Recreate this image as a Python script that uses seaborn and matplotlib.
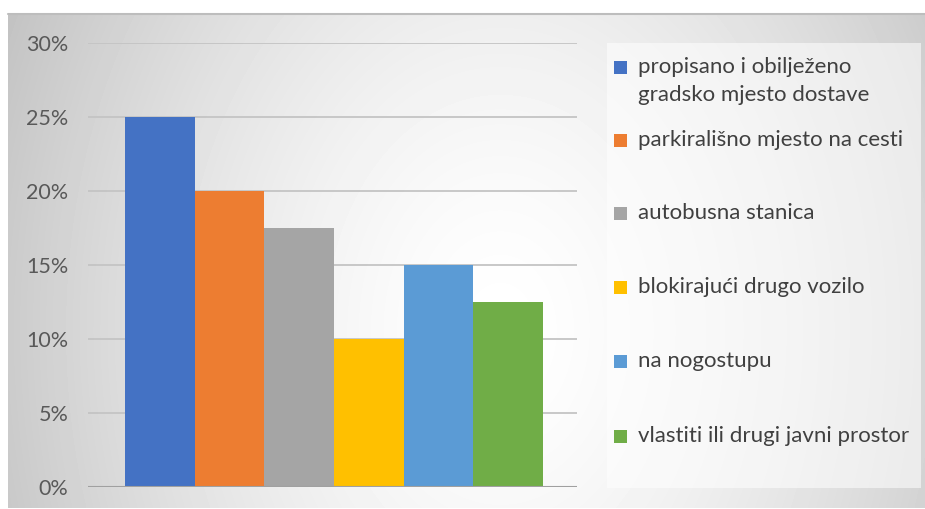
import numpy as np
import pandas as pd
import matplotlib.pyplot as plt
import seaborn as sns
from matplotlib.patches import Rectangle
from matplotlib.ticker import PercentFormatter

# Data
categories = ['propisano i obilježeno\ngradsko mjesto dostave',
              'parkirališno mjesto na cesti',
              'autobusna stanica',
              'blokirajući drugo vozilo',
              'na nogostupu',
              'vlastiti ili drugi javni prostor']
shares = [25, 20, 17.5, 10, 15, 12.5]
colors = ['#4472C4', '#ED7D31', '#A5A5A5', '#FFC000', '#5B9BD5', '#70AD47']

df = pd.DataFrame({'cat': categories, 'share': shares})

sns.set_style('white')
plt.rcParams['font.family'] = ['Lato', 'DejaVu Sans']

W, H = 925, 509
fig = plt.figure(figsize=(W / 100, H / 100), dpi=100)

# gradient background of chart area
bg = fig.add_axes([8 / W, 1 - 508 / H, 917 / W, 495 / H])
yy, xx = np.mgrid[13:508, 8:925]
d = np.sqrt(((xx - 500) / 520.0) ** 2 + ((yy - 330) / 700.0) ** 2)
val = np.clip(1 - 0.22 * d ** 1.5, 0, 1)
bg.imshow(val, cmap='gray', vmin=0, vmax=1, aspect='auto',
          extent=[8, 925, 508, 13], interpolation='bilinear')
bg.set_xlim(8, 925)
bg.set_ylim(508, 13)
bg.axis('off')
bg.plot([8, 925], [13.5, 13.5], color='#bdbdbd', lw=1.5, clip_on=False)

# main axes
ax = fig.add_axes([88 / W, 1 - 487 / H, (577 - 88) / W, (487 - 43) / H])
ax.patch.set_alpha(0)
sns.barplot(data=df, x='cat', y='share', hue='cat', palette=colors,
            width=1.0, legend=False, ax=ax, saturation=1, linewidth=0)
ax.set_xlim(-1.03, 5.99)
ax.set_ylim(0, 30)
ax.set_yticks(range(0, 31, 5))
ax.yaxis.set_major_formatter(PercentFormatter(decimals=0))
ax.set_xticks([])
ax.set_xlabel('')
ax.set_ylabel('')
ax.grid(axis='y', color='#c4c4c4', lw=1.3)
ax.set_axisbelow(True)
for s in ax.spines.values():
    s.set_visible(False)
ax.axhline(0, color='#a0a0a0', lw=1.5, zorder=1)
ax.tick_params(axis='y', length=0, pad=14, labelsize=15.5, labelcolor='#595959')

# legend drawn in pixel coords
lg = fig.add_axes([0, 0, 1, 1])
lg.set_xlim(0, W)
lg.set_ylim(H, 0)
lg.axis('off')
lg.add_patch(Rectangle((607, 43), 314, 445, facecolor='white', alpha=0.55,
                       edgecolor='none'))
ys = [67, 140, 213, 287, 361, 436]
for lab, c, y in zip(categories, colors, ys):
    lg.add_patch(Rectangle((614, y - 6.5), 13, 13, facecolor=c, edgecolor='none'))
    if '\n' in lab:
        lg.text(638, y - 10, lab, va='top', ha='left', fontsize=16,
                color='#404040', linespacing=1.5)
    else:
        lg.text(638, y, lab, va='center', ha='left', fontsize=16,
                color='#404040')

fig.savefig('out.png', dpi=100)
